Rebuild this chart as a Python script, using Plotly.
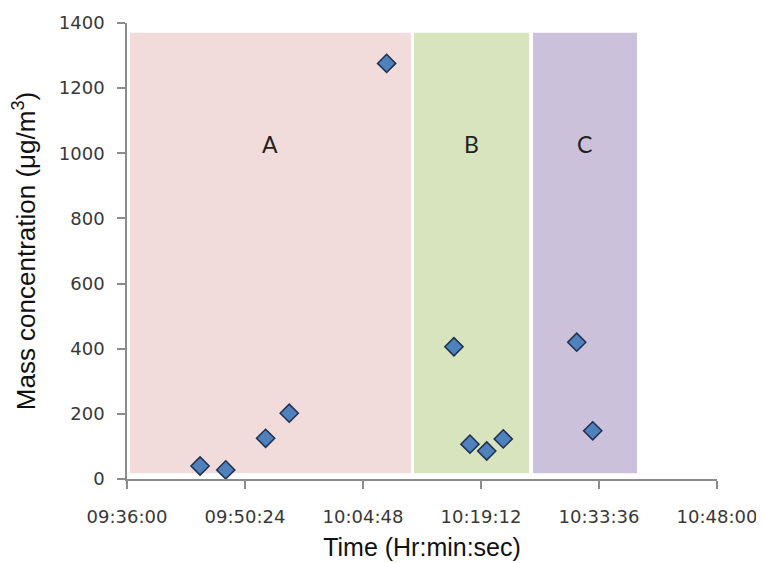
import datetime as dt
import plotly.graph_objects as go

DAY = "2000-01-01 "

times = ["09:44:55", "09:48:03", "09:52:55", "09:55:48", "10:07:41",
         "10:15:54", "10:17:51", "10:19:54", "10:21:55",
         "10:30:53", "10:32:50"]
mass = [40, 28, 125, 202, 1276, 406, 107, 86, 123, 420, 148]

region_labels = ["A", "B", "C"]
region_start = ["09:36:22", "10:11:01", "10:25:33"]
region_end = ["10:10:39", "10:25:03", "10:38:14"]
region_colors = ["#F2DCDB", "#D7E4BD", "#CCC1DA"]
region_low = 18
region_high = 1370
label_y = 1030

tick_labels = ["09:36:00", "09:50:24", "10:04:48", "10:19:12", "10:33:36", "10:48:00"]
y_ticks = [0, 200, 400, 600, 800, 1000, 1200, 1400]


def _mid(s, e):
    a = dt.datetime.strptime(DAY + s, "%Y-%m-%d %H:%M:%S")
    b = dt.datetime.strptime(DAY + e, "%Y-%m-%d %H:%M:%S")
    return (a + (b - a) / 2).strftime("%Y-%m-%d %H:%M:%S")


fig = go.Figure()

for lab, s, e, c in zip(region_labels, region_start, region_end, region_colors):
    fig.add_shape(type="rect", xref="x", yref="y",
                  x0=DAY + s, x1=DAY + e, y0=region_low, y1=region_high,
                  fillcolor=c, line=dict(width=0), layer="below")
    fig.add_annotation(x=_mid(s, e), y=label_y, text=lab, showarrow=False,
                       xref="x", yref="y",
                       font=dict(family="Lato, sans-serif", size=23, color="#222"))

fig.add_trace(go.Scatter(
    x=[DAY + t for t in times], y=mass, mode="markers",
    marker=dict(symbol="diamond", size=14, color="#4F81BD",
                line=dict(color="#1F2F4F", width=1.5)),
    showlegend=False, hoverinfo="x+y"))

# page body has an 8px offset; margins compensate
fig.update_layout(
    width=764, height=563,
    margin=dict(l=119, r=55, t=15, b=92),
    paper_bgcolor="white", plot_bgcolor="white",
    font=dict(family="Liberation Sans, Arial, sans-serif", color="#222"),
)

fig.update_xaxes(
    type="date", automargin=False,
    range=[DAY + tick_labels[0], DAY + tick_labels[-1]],
    tickvals=[DAY + t for t in tick_labels],
    ticktext=tick_labels,
    showgrid=False, zeroline=False,
    showline=True, linecolor="#8C8C8C", linewidth=1.5,
    ticks="outside", ticklen=8, tickcolor="#8C8C8C", tickwidth=1.5,
    ticklabelstandoff=13,
    tickfont=dict(family="DejaVu Sans, sans-serif", size=18, color="#383838"),
    title=dict(text="Time (Hr:min:sec)", standoff=12,
               font=dict(family="Liberation Sans, Arial, sans-serif", size=25, color="#111")),
)

fig.update_yaxes(
    range=[0, 1400], automargin=False,
    tickvals=y_ticks,
    showgrid=False, zeroline=False,
    showline=True, linecolor="#8C8C8C", linewidth=1.5,
    ticks="outside", ticklen=8, tickcolor="#8C8C8C", tickwidth=1.5,
    ticklabelstandoff=9,
    tickfont=dict(family="DejaVu Sans, sans-serif", size=18, color="#383838"),
    title=dict(text="Mass concentration (μg/m<sup>3</sup>)", standoff=22,
               font=dict(family="Liberation Sans, Arial, sans-serif", size=26, color="#111")),
)

fig.write_html("out.html")
